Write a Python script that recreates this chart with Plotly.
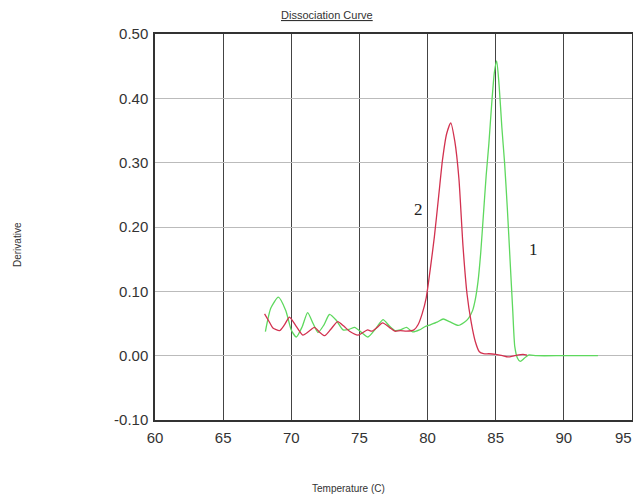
import plotly.graph_objects as go

# Curve 1 (green)
temp_1 = [68.1, 68.5, 69.05, 69.6, 70.0, 70.37, 70.8, 71.2, 71.6, 71.96, 72.4, 72.8, 73.3, 73.8,
          74.25, 74.65, 75.1, 75.63, 76.2, 76.73, 77.2, 77.6, 78.0, 78.46, 78.9, 79.4, 79.8, 80.2,
          80.7, 81.15, 81.6, 82.25, 82.7, 83.0, 83.3, 83.5, 83.7, 83.9, 84.1, 84.3, 84.5, 84.7,
          84.9, 85.07, 85.25, 85.45, 85.65, 85.85, 86.05, 86.25, 86.4, 86.6, 86.8, 87.1, 87.4,
          88.0, 90.0, 92.5]
deriv_1 = [0.0375, 0.074, 0.091, 0.07, 0.04, 0.029, 0.045, 0.067, 0.05, 0.036, 0.048, 0.064, 0.055, 0.040,
           0.041, 0.044, 0.037, 0.029, 0.042, 0.056, 0.046, 0.039, 0.040, 0.044, 0.037, 0.040, 0.045, 0.048,
           0.052, 0.057, 0.053, 0.047, 0.052, 0.058, 0.070, 0.087, 0.115, 0.16, 0.22, 0.28, 0.33, 0.39,
           0.44, 0.458, 0.42, 0.355, 0.30, 0.23, 0.15, 0.07, 0.014, -0.004, -0.009, -0.004, 0.001,
           0.0, 0.0, 0.0]

# Curve 2 (red)
temp_2 = [68.04, 68.4, 68.65, 69.14, 69.5, 69.87, 70.35, 70.85, 71.3, 71.7, 72.1, 72.45, 72.9, 73.4,
          73.85, 74.3, 74.9, 75.6, 75.9, 76.3, 76.7, 77.2, 77.6, 78.0, 78.46, 79.0, 79.3, 79.6, 79.9,
          80.2, 80.5, 80.8, 81.1, 81.4, 81.7, 82.0, 82.3, 82.6, 82.9, 83.2, 83.5, 83.8, 84.1, 84.5,
          85.0, 85.5, 85.9, 86.4, 87.0, 87.3]
deriv_2 = [0.065, 0.052, 0.043, 0.039, 0.048, 0.060, 0.046, 0.032, 0.038, 0.044, 0.036, 0.031, 0.041, 0.053,
           0.046, 0.0375, 0.032, 0.040, 0.038, 0.044, 0.051, 0.044, 0.038, 0.039, 0.038, 0.040, 0.048, 0.065, 0.09,
           0.135, 0.185, 0.245, 0.305, 0.345, 0.362, 0.333, 0.275, 0.17, 0.095, 0.052, 0.022, 0.006, 0.003, 0.003,
           0.002, 0.0, -0.002, 0.0, 0.002, 0.001]

x_ticks = [60, 65, 70, 75, 80, 85, 90, 95]
x_tick_labels = ["60", "65", "70", "75", "80", "85", "90", "95"]
y_ticks = [-0.10, 0.00, 0.10, 0.20, 0.30, 0.40, 0.50]
y_tick_labels = ["-0.10", "0.00", "0.10", "0.20", "0.30", "0.40", "0.50"]

fig = go.Figure()
fig.add_trace(go.Scatter(x=temp_1, y=deriv_1, mode="lines", name="1",
                         line=dict(color="#5ed85e", width=1.3, shape="spline", smoothing=0.6)))
fig.add_trace(go.Scatter(x=temp_2, y=deriv_2, mode="lines", name="2",
                         line=dict(color="#d2314f", width=1.3, shape="spline", smoothing=0.6)))

# page offset of the figure (body margin) in the screenshot
OFF = 8
W, H = 641 - OFF, 499 - OFF
L, R, T, B = 155 - OFF, W - (632 - OFF), 34 - OFF, H - (420 - OFF)

tick_font = dict(family="Liberation Sans, Arial, sans-serif", size=15, color="#333333")
# last x label is drawn as an annotation so it stays inside the visible page edge
shown_x_labels = x_tick_labels[:-1] + [""]

fig.update_layout(
    width=W, height=H,
    margin=dict(l=L, r=R, t=T, b=B),
    paper_bgcolor="white", plot_bgcolor="white",
    showlegend=False,
    xaxis=dict(range=[60, 95], tickvals=x_ticks, ticktext=shown_x_labels, showgrid=True,
               gridcolor="#444444", gridwidth=1,
               showline=True, linecolor="#333333", linewidth=1.5, mirror=True, automargin=False,
               zeroline=False, tickfont=tick_font, ticks="", ticklabelstandoff=3,
               ticklabeloverflow="allow"),
    yaxis=dict(range=[-0.10, 0.50], tickvals=y_ticks, ticktext=y_tick_labels, showgrid=True,
               gridcolor="#bbbbbb", gridwidth=1, showline=True, linecolor="#333333", linewidth=1.5,
               mirror=True, zeroline=False, tickfont=tick_font, ticks="", ticklabelstandoff=2,
               automargin=False),
    annotations=[
        dict(text="<u>Dissociation Curve</u>", x=327, y=15, xref="paper", yref="paper",
             showarrow=False, font=dict(family="Liberation Sans, Arial, sans-serif", size=11, color="#333333")),
        dict(text="Derivative", textangle=-90, x=18, y=245, xref="paper", yref="paper", showarrow=False,
             font=dict(family="Liberation Sans, Arial, sans-serif", size=10, color="#333333")),
        dict(text="Temperature (C)", x=348, y=488, xref="paper", yref="paper", showarrow=False,
             font=dict(family="Liberation Sans, Arial, sans-serif", size=10, color="#333333")),
        dict(text="2", x=79.3, y=0.227, xref="x", yref="y", showarrow=False,
             font=dict(family="Liberation Serif, Times New Roman, serif", size=17, color="#222222")),
        dict(text="1", x=87.75, y=0.165, xref="x", yref="y", showarrow=False,
             font=dict(family="Liberation Serif, Times New Roman, serif", size=17, color="#222222")),
    ],
)

# convert screen-pixel-positioned annotations (first three) to paper coordinates
pw, ph = W - L - R, H - T - B
for a in fig.layout.annotations[:3]:
    a.x = (a.x - OFF - L) / pw
    a.y = (H - B - (a.y - OFF)) / ph
    a.xanchor = "center"
    a.yanchor = "middle"

# last x tick label, right-aligned at the axis end
fig.add_annotation(text=x_tick_labels[-1], x=x_ticks[-1], xref="x", xanchor="right", xshift=2,
                   y=(H - B - (437 - OFF)) / ph, yref="paper", yanchor="middle",
                   showarrow=False, font=tick_font)

fig.write_html("out.html")
